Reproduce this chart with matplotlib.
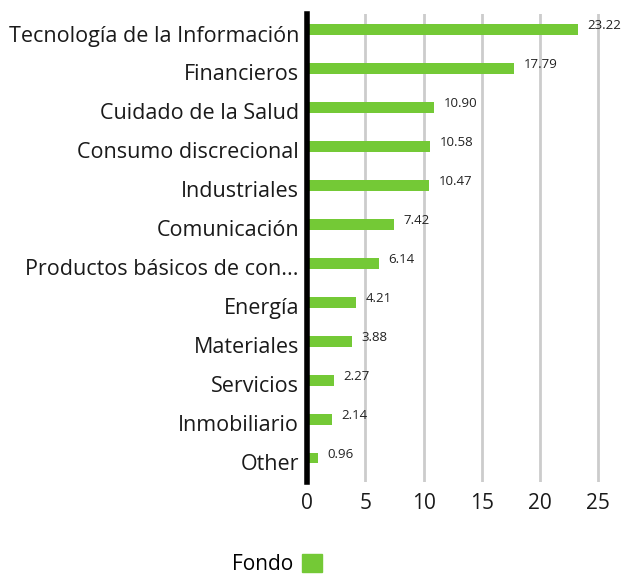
import matplotlib
matplotlib.use("Agg")
import matplotlib.pyplot as plt
from matplotlib.patches import Patch

categories = ["Tecnología de la Información", "Financieros", "Cuidado de la Salud",
              "Consumo discrecional", "Industriales", "Comunicación",
              "Productos básicos de con...", "Energía", "Materiales", "Servicios",
              "Inmobiliario", "Other"]
values = [23.22, 17.79, 10.90, 10.58, 10.47, 7.42, 6.14, 4.21, 3.88, 2.27, 2.14, 0.96]
xticks = [0, 5, 10, 15, 20, 25]
series_name = "Fondo"

plt.rcParams['font.family'] = ['Open Sans', 'DejaVu Sans']
color = "#74c936"

fig = plt.figure(figsize=(6.27, 5.76), dpi=100)
ax = fig.add_axes([0.49, 0.163, 0.483, 0.813])

ypos = list(range(len(categories)))
ax.barh(ypos, values, height=0.28, color=color, zorder=3)
for y, v in zip(ypos, values):
    ax.text(v + 0.8, y - 0.1, f"{v:.2f}", fontsize=9.5, va="center", ha="left", color="#222222")

ax.set_yticks(ypos)
ax.set_yticklabels([])
for y, cat in zip(ypos, categories):
    ax.annotate(cat, xy=(0, y), xycoords=("axes fraction", "data"),
                xytext=(-6, -4.5), textcoords="offset points",
                ha="right", va="center", fontsize=15.5, color="#1a1a1a")
ax.set_ylim(11.62, -0.41)
ax.set_xlim(0, 26)
ax.set_xticks(xticks)
ax.set_xticklabels([str(t) for t in xticks], fontsize=15, color="#1a1a1a")
ax.tick_params(axis="both", length=0, pad=6)
ax.tick_params(axis="x", pad=8)
ax.xaxis.grid(True, color="#cccccc", linewidth=2, zorder=0)
for s in ["top", "right", "bottom"]:
    ax.spines[s].set_visible(False)
ax.spines["left"].set_linewidth(4)
ax.spines["left"].set_color("black")
ax.spines["left"].set_zorder(4)

leg = fig.legend(handles=[Patch(color=color, label=series_name)], loc="center",
                 bbox_to_anchor=(0.442, 0.02), frameon=False, fontsize=15,
                 markerfirst=False, handlelength=1.0, handleheight=1.0, handletextpad=0.4)

fig.savefig("out.png", dpi=100)
